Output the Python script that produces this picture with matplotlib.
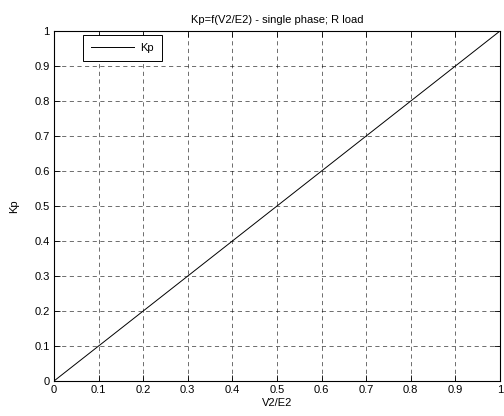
import numpy as np
import matplotlib.pyplot as plt

plt.rcParams['font.family'] = ['Liberation Sans', 'DejaVu Sans']
plt.rcParams['font.size'] = 8

# Kp against V2/E2 for a single-phase R load
v2_e2 = [0.0, 0.05, 0.1, 0.2, 0.3, 0.4, 0.5, 0.6, 0.7, 0.8, 0.9, 1.0]
kp = [0.0, 0.05, 0.1, 0.2, 0.3, 0.4, 0.5, 0.6, 0.7, 0.8, 0.9, 1.0]
ticks = np.arange(0, 1.01, 0.1)
tick_labels = ['0', '0.1', '0.2', '0.3', '0.4', '0.5', '0.6', '0.7', '0.8', '0.9', '1']

fig = plt.figure(figsize=(5.04, 4.16), dpi=100)
ax = fig.add_axes([54/504, 1 - 381/416, 446/504, 350/416])
ax.plot(v2_e2, kp, color='k', linewidth=0.7, label='Kp')

ax.set_xlim(0, 1)
ax.set_ylim(0, 1)
ax.set_xticks(ticks)
ax.set_xticklabels(tick_labels)
ax.set_yticks(ticks)
ax.set_yticklabels(tick_labels)
ax.tick_params(direction='in', top=True, right=True, length=4, width=0.6, pad=3)
ax.grid(True, color='k', linestyle=(0, (6, 5)), linewidth=0.5, alpha=0.8)
for s in ax.spines.values():
	s.set_linewidth(0.8)

ax.set_title('Kp=f(V2/E2) - single phase; R load', fontsize=8, pad=6)
ax.set_xlabel('V2/E2', labelpad=2)
ax.set_ylabel('Kp', labelpad=11)

leg = ax.legend(loc='upper left', bbox_to_anchor=(0.065, 0.99), borderaxespad=0,
	fancybox=False, edgecolor='k', framealpha=1, handlelength=3.8,
	borderpad=0.75, handletextpad=0.6)
leg.get_frame().set_linewidth(0.7)

fig.savefig('out.png', dpi=100)
